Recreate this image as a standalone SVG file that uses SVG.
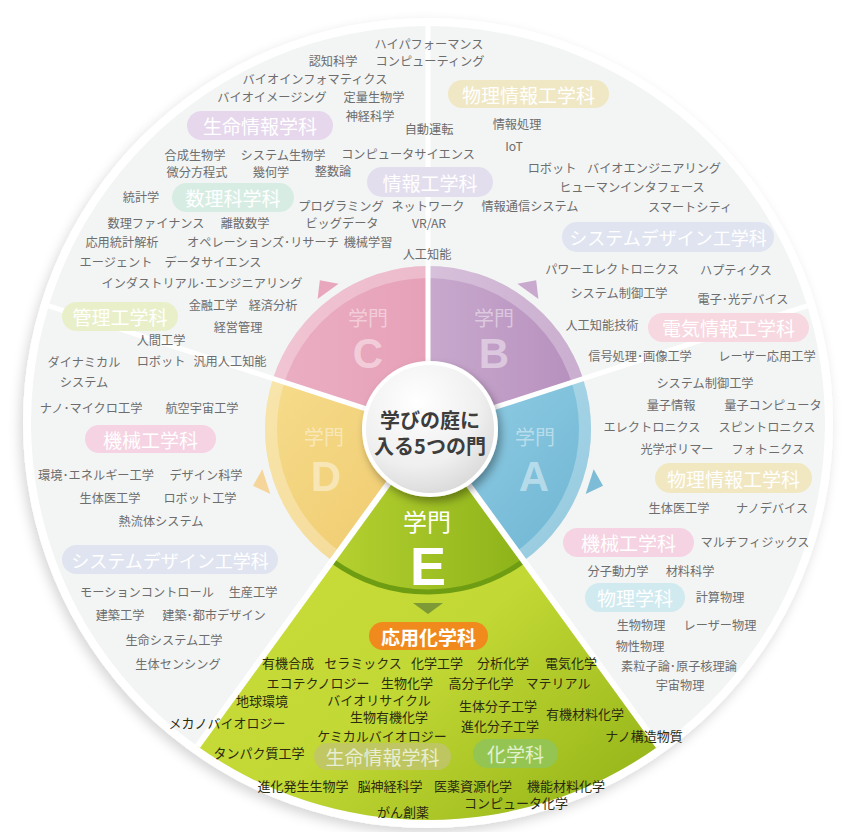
<svg xmlns="http://www.w3.org/2000/svg" width="843" height="832" viewBox="0 0 843 832">
<defs>
<style>
text{font-family:"Noto Sans CJK JP","Noto Sans",sans-serif;text-anchor:middle;dominant-baseline:central}
.lb{font-size:12.2px;fill:#6d6d6d}
.lg{font-size:13px;fill:#2b2b12}
.pl{font-size:19px;fill:#ffffff}
.gt{font-size:20px;fill:#ffffff;fill-opacity:.45}
.gl{font-size:42px;font-weight:bold;fill:#ffffff;fill-opacity:.45;font-family:"Liberation Sans","DejaVu Sans",sans-serif}
.sep{stroke:#ffffff;fill:none}
</style>
<filter id="shOuter" x="-10%" y="-10%" width="120%" height="120%"><feDropShadow dx="-3" dy="5" stdDeviation="6" flood-color="#000" flood-opacity="0.16"/></filter>
<filter id="shCenter" x="-30%" y="-30%" width="160%" height="160%"><feDropShadow dx="3" dy="5" stdDeviation="4" flood-color="#000" flood-opacity="0.35"/></filter>
<linearGradient id="gC" x1="0" y1="0" x2="1" y2="0"><stop offset="0" stop-color="#ebaec2"/><stop offset="1" stop-color="#e6a1b8"/></linearGradient>
<linearGradient id="gB" x1="0" y1="0" x2="1" y2="0"><stop offset="0" stop-color="#c8a9cd"/><stop offset="1" stop-color="#b68fbd"/></linearGradient>
<linearGradient id="gA" x1="0" y1="0" x2="1" y2="1"><stop offset="0" stop-color="#95cfe5"/><stop offset="1" stop-color="#6cb4d2"/></linearGradient>
<linearGradient id="gD" x1="0" y1="0" x2="1" y2="1"><stop offset="0" stop-color="#f6dc8c"/><stop offset="1" stop-color="#efc96c"/></linearGradient>
<linearGradient id="gEo" x1="0" y1="0" x2="1" y2="1"><stop offset="0" stop-color="#cfe03e"/><stop offset="0.55" stop-color="#c2d834"/><stop offset="1" stop-color="#8fb015"/></linearGradient>
<linearGradient id="gEi" x1="0" y1="0" x2="1" y2="0"><stop offset="0" stop-color="#b5d030"/><stop offset="1" stop-color="#8db31a"/></linearGradient>
<radialGradient id="gCen" cx="0.4" cy="0.3" r="0.8"><stop offset="0" stop-color="#ffffff"/><stop offset="0.6" stop-color="#efefef"/><stop offset="1" stop-color="#d2d2d2"/></radialGradient>
</defs>

<g id="background">
<circle cx="428" cy="423" r="405" fill="#ffffff" filter="url(#shOuter)"/>
<circle cx="428" cy="423" r="397" fill="#f3f5f5"/>
</g>

<g id="gate-E-wedge">
<path d="M428,429 L658.49,746.24 A397,397 0 0 1 197.51,746.24 Z" fill="url(#gEo)"/>
</g>

<g id="gate-C">
<path d="M428,429 L272.98,378.63 A163,163 0 0 1 428,266 Z" fill="url(#gC)"/>
<path d="M317.56,299.11 L338.60,283.83 L319.85,280.14 Z" fill="#e8a7bd"/>
</g>
<g id="gate-B">
<path d="M428,429 L428,266 A163,163 0 0 1 583.02,378.63 Z" fill="url(#gB)"/>
<path d="M517.40,283.83 L538.44,299.11 L536.15,280.14 Z" fill="#c9a9cd"/>
</g>
<g id="gate-A">
<path d="M428,429 L583.02,378.63 A163,163 0 0 1 523.81,560.87 Z" fill="url(#gA)"/>
<path d="M593.70,469.17 L585.66,493.89 L602.99,485.86 Z" fill="#7cbcd6"/>
</g>
<g id="gate-D">
<path d="M428,429 L332.19,560.87 A163,163 0 0 1 272.98,378.63 Z" fill="url(#gD)"/>
<path d="M262.30,469.17 L270.34,493.89 L253.0,485.86 Z" fill="#f5d59a"/>
</g>
<circle cx="428" cy="429" r="157" fill="none" stroke="#ffffff" stroke-opacity="0.28" stroke-width="12"/>
<g id="gate-E">
<path d="M428,429 L523.81,560.87 A163,163 0 0 1 332.19,560.87 Z" fill="url(#gEi)"/>
<path d="M523.81,560.87 A163,163 0 0 1 332.19,560.87" fill="none" stroke="#6e9c12" stroke-width="5"/>
<path d="M413,603 L443,603 L428,614 Z" fill="#7d9a36"/>
</g>

<g id="connectors">
<line class="sep" x1="428" y1="429" x2="428" y2="24" stroke-width="5"/>
<line class="sep" x1="428" y1="429" x2="48.71" y2="305.76" stroke-width="5"/>
<line class="sep" x1="428" y1="429" x2="807.29" y2="305.76" stroke-width="5"/>
<line class="sep" x1="428" y1="429" x2="658.49" y2="746.24" stroke-width="6"/>
<line class="sep" x1="428" y1="429" x2="197.51" y2="746.24" stroke-width="6"/>
</g>

<g id="gate-labels">
<text class="gt" x="368" y="317">学門</text>
<text class="gl" x="368" y="353">C</text>
<text class="gt" x="494" y="317">学門</text>
<text class="gl" x="494" y="353">B</text>
<text class="gt" x="535" y="436">学門</text>
<text class="gl" x="534" y="476">A</text>
<text class="gt" x="324" y="436">学門</text>
<text class="gl" x="326" y="476">D</text>
<text x="427" y="520" style="font-size:24px;fill:#ffffff">学門</text>
<text x="428" y="566" style="font-size:54px;font-weight:bold;fill:#ffffff;font-family:'Liberation Sans','DejaVu Sans',sans-serif">E</text>
</g>

<g id="center">
<circle cx="430" cy="429" r="66" fill="url(#gCen)" stroke="#ffffff" stroke-width="4" filter="url(#shCenter)"/>
<text x="430" y="419" style="font-size:20px;font-weight:bold;fill:#3d3d3d">学びの庭に</text>
<text x="430" y="445" style="font-size:20px;font-weight:bold;fill:#3d3d3d">入る5つの門</text>
</g>

<g id="pills">
<g id="pill-seimei-top"><rect x="187" y="111" width="146" height="29" rx="14.5" fill="#e6d7ec"/><text class="pl" x="260" y="125.5">生命情報学科</text></g>
<g id="pill-butsuri-joho-top"><rect x="448" y="80" width="161" height="28" rx="14" fill="#f0e8c4"/><text class="pl" x="528.5" y="94">物理情報工学科</text></g>
<g id="pill-joho"><rect x="367" y="167" width="126" height="30" rx="15" fill="#e3deee"/><text class="pl" x="430" y="182">情報工学科</text></g>
<g id="pill-suri"><rect x="172" y="183" width="122" height="29" rx="14.5" fill="#d7ede3"/><text class="pl" x="233" y="197.5">数理科学科</text></g>
<g id="pill-sysdesign-right"><rect x="562" y="222" width="212" height="30" rx="15" fill="#dfe4f0"/><text class="pl" x="668" y="237" style="font-size:18px">システムデザイン工学科</text></g>
<g id="pill-kanri"><rect x="62" y="302" width="116" height="29" rx="14.5" fill="#e9f0c9"/><text class="pl" x="120" y="316.5">管理工学科</text></g>
<g id="pill-denki"><rect x="648" y="313" width="161" height="29" rx="14.5" fill="#f7d7e0"/><text class="pl" x="728.5" y="327.5">電気情報工学科</text></g>
<g id="pill-kikai-left"><rect x="85" y="425" width="131" height="28" rx="14" fill="#f5d3e2"/><text class="pl" x="150.5" y="439">機械工学科</text></g>
<g id="pill-butsuri-joho-right"><rect x="655" y="463" width="157" height="30" rx="15" fill="#f1e7c1"/><text class="pl" x="733.5" y="478">物理情報工学科</text></g>
<g id="pill-kikai-right"><rect x="563" y="528" width="131" height="29" rx="14.5" fill="#f5d3e2"/><text class="pl" x="628.5" y="542.5">機械工学科</text></g>
<g id="pill-sysdesign-left"><rect x="62" y="545" width="216" height="29" rx="14.5" fill="#dfe4f0"/><text class="pl" x="170" y="559.5" style="font-size:18px">システムデザイン工学科</text></g>
<g id="pill-butsuri"><rect x="585" y="583" width="100" height="29" rx="14.5" fill="#d0eaef"/><text class="pl" x="635" y="597.5">物理学科</text></g>
<g id="pill-oyo"><rect x="369" y="622" width="119" height="28" rx="14" fill="#f08a1c"/><text class="pl" x="428.5" y="636" style="font-weight:bold">応用化学科</text></g>
<g id="pill-seimei-green"><rect x="314" y="743" width="137" height="27" rx="13.5" fill="#bfc46c" fill-opacity="0.85"/><text class="pl" x="382.5" y="756.5" style="fill:#e9eed2">生命情報学科</text></g>
<g id="pill-kagaku"><rect x="473" y="739" width="85" height="29" rx="14.5" fill="#94c553"/><text class="pl" x="515.5" y="753.5" style="fill:#e2f1cf">化学科</text></g>
</g>

<g id="labels-grey">
<text class="lb" x="429" y="44">ハイパフォーマンス</text>
<text class="lb" x="333" y="61">認知科学</text>
<text class="lb" x="430" y="61">コンピューティング</text>
<text class="lb" x="315" y="79">バイオインフォマティクス</text>
<text class="lb" x="272" y="97">バイオイメージング</text>
<text class="lb" x="374" y="97">定量生物学</text>
<text class="lb" x="370" y="116">神経科学</text>
<text class="lb" x="429" y="129">自動運転</text>
<text class="lb" x="517" y="124">情報処理</text>
<text class="lb" x="514" y="146">IoT</text>
<text class="lb" x="195" y="155">合成生物学</text>
<text class="lb" x="283" y="155">システム生物学</text>
<text class="lb" x="408" y="154">コンピュータサイエンス</text>
<text class="lb" x="197" y="172">微分方程式</text>
<text class="lb" x="271" y="172">幾何学</text>
<text class="lb" x="333" y="171">整数論</text>
<text class="lb" x="552" y="168">ロボット</text>
<text class="lb" x="654" y="168">バイオエンジニアリング</text>
<text class="lb" x="632" y="187">ヒューマンインタフェース</text>
<text class="lb" x="141" y="197">統計学</text>
<text class="lb" x="341" y="206">プログラミング</text>
<text class="lb" x="428" y="206">ネットワーク</text>
<text class="lb" x="530" y="206">情報通信システム</text>
<text class="lb" x="690" y="207">スマートシティ</text>
<text class="lb" x="156" y="223">数理ファイナンス</text>
<text class="lb" x="245" y="223">離散数学</text>
<text class="lb" x="342" y="223">ビッグデータ</text>
<text class="lb" x="429" y="223">VR/AR</text>
<text class="lb" x="122" y="242">応用統計解析</text>
<text class="lb" x="263" y="242">オペレーションズ･リサーチ</text>
<text class="lb" x="368" y="242">機械学習</text>
<text class="lb" x="427" y="254">人工知能</text>
<text class="lb" x="116" y="262">エージェント</text>
<text class="lb" x="213" y="262">データサイエンス</text>
<text class="lb" x="612" y="269">パワーエレクトロニクス</text>
<text class="lb" x="736" y="270">ハプティクス</text>
<text class="lb" x="202" y="283">インダストリアル･エンジニアリング</text>
<text class="lb" x="619" y="293">システム制御工学</text>
<text class="lb" x="743" y="299">電子･光デバイス</text>
<text class="lb" x="213" y="305">金融工学</text>
<text class="lb" x="273" y="305">経済分析</text>
<text class="lb" x="238" y="327">経営管理</text>
<text class="lb" x="602" y="325">人工知能技術</text>
<text class="lb" x="161" y="340">人間工学</text>
<text class="lb" x="84" y="362">ダイナミカル</text>
<text class="lb" x="84" y="382">システム</text>
<text class="lb" x="161" y="361">ロボット</text>
<text class="lb" x="230" y="361">汎用人工知能</text>
<text class="lb" x="640" y="356">信号処理･画像工学</text>
<text class="lb" x="767" y="356">レーザー応用工学</text>
<text class="lb" x="705" y="383">システム制御工学</text>
<text class="lb" x="671" y="405">量子情報</text>
<text class="lb" x="773" y="405">量子コンピュータ</text>
<text class="lb" x="91" y="408">ナノ･マイクロ工学</text>
<text class="lb" x="202" y="408">航空宇宙工学</text>
<text class="lb" x="652" y="427">エレクトロニクス</text>
<text class="lb" x="767" y="427">スピントロニクス</text>
<text class="lb" x="677" y="449">光学ポリマー</text>
<text class="lb" x="768" y="449">フォトニクス</text>
<text class="lb" x="96" y="475">環境･エネルギー工学</text>
<text class="lb" x="206" y="475">デザイン科学</text>
<text class="lb" x="110" y="498">生体医工学</text>
<text class="lb" x="200" y="498">ロボット工学</text>
<text class="lb" x="679" y="508">生体医工学</text>
<text class="lb" x="772" y="508">ナノデバイス</text>
<text class="lb" x="161" y="521">熱流体システム</text>
<text class="lb" x="755" y="542">マルチフィジックス</text>
<text class="lb" x="618" y="571">分子動力学</text>
<text class="lb" x="690" y="571">材料科学</text>
<text class="lb" x="720" y="597">計算物理</text>
<text class="lb" x="147" y="592">モーションコントロール</text>
<text class="lb" x="253" y="592">生産工学</text>
<text class="lb" x="120" y="615">建築工学</text>
<text class="lb" x="214" y="615">建築･都市デザイン</text>
<text class="lb" x="641" y="625">生物物理</text>
<text class="lb" x="720" y="625">レーザー物理</text>
<text class="lb" x="174" y="640">生命システム工学</text>
<text class="lb" x="640" y="646">物性物理</text>
<text class="lb" x="679" y="666">素粒子論･原子核理論</text>
<text class="lb" x="178" y="664">生体センシング</text>
<text class="lb" x="680" y="685">宇宙物理</text>
</g>

<g id="labels-green">
<text class="lg" x="288" y="662">有機合成</text>
<text class="lg" x="363" y="662">セラミックス</text>
<text class="lg" x="437" y="662">化学工学</text>
<text class="lg" x="503" y="662">分析化学</text>
<text class="lg" x="571" y="662">電気化学</text>
<text class="lg" x="318" y="682">エコテクノロジー</text>
<text class="lg" x="407" y="682">生物化学</text>
<text class="lg" x="481" y="682">高分子化学</text>
<text class="lg" x="558" y="682">マテリアル</text>
<text class="lg" x="262" y="700">地球環境</text>
<text class="lg" x="379" y="699">バイオリサイクル</text>
<text class="lg" x="498" y="705">生体分子工学</text>
<text class="lg" x="585" y="713">有機材料化学</text>
<text class="lg" x="227" y="722">メカノバイオロジー</text>
<text class="lg" x="389" y="716">生物有機化学</text>
<text class="lg" x="500" y="725">進化分子工学</text>
<text class="lg" x="382" y="735">ケミカルバイオロジー</text>
<text class="lg" x="644" y="735">ナノ構造物質</text>
<text class="lg" x="259" y="752">タンパク質工学</text>
<text class="lg" x="303" y="785">進化発生生物学</text>
<text class="lg" x="390" y="785">脳神経科学</text>
<text class="lg" x="473" y="785">医薬資源化学</text>
<text class="lg" x="566" y="785">機能材料化学</text>
<text class="lg" x="516" y="802">コンピュータ化学</text>
<text class="lg" x="403" y="811">がん創薬</text>
</g>
</svg>
